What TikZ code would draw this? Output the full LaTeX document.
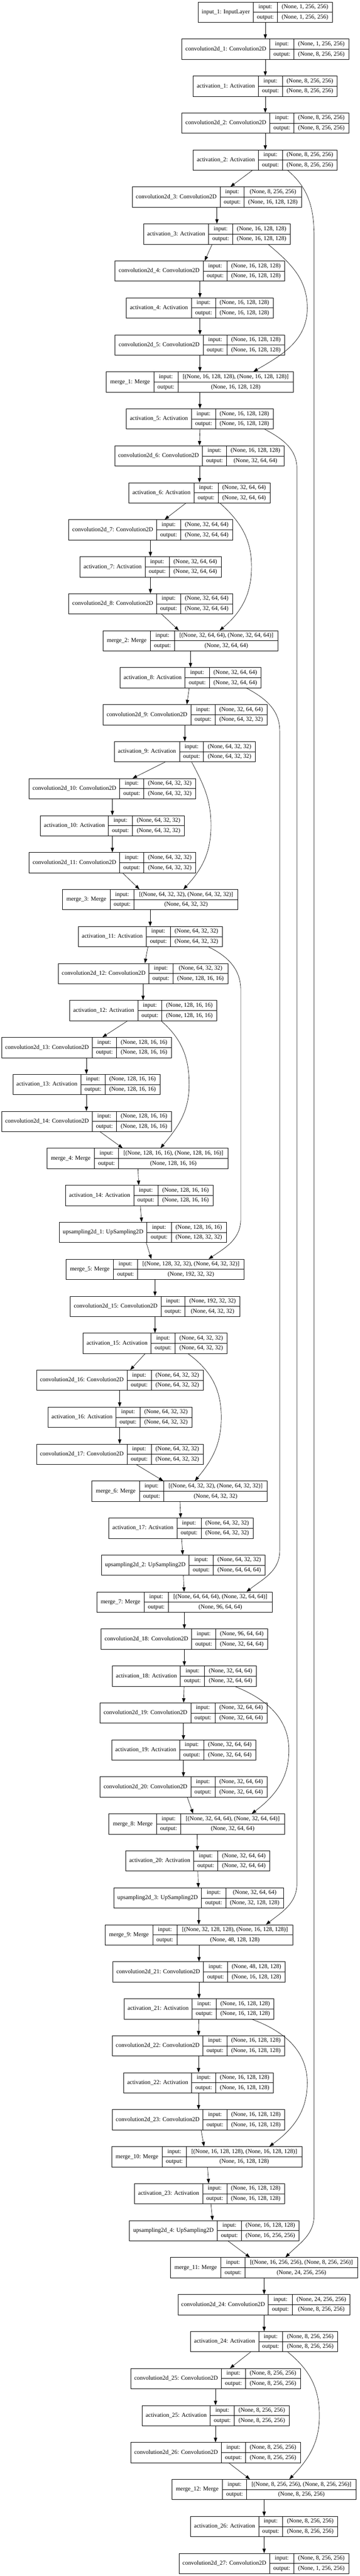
\documentclass[tikz,border=0pt]{standalone}
\usepackage{fontspec}
\setmainfont{Liberation Serif}
\usetikzlibrary{fit,calc,arrows.meta}
\tikzset{
  boxline/.style={line width=1.3pt},
  lbl/.style={font=\fontsize{18}{20}\selectfont, inner sep=0pt, anchor=center, text height=12.6pt, text depth=4pt},
  edgeline/.style={line width=1pt, -{Triangle[length=13.5pt,width=10pt]}},
}
% #1 name, #2 row, #3 left, #4 div1, #5 div2, #6 right, #7 label, #8 input, #9 output
\newcommand\layer[9]{%
  \pgfmathsetmacro\ltop{-(6.3+112*#2)}%
  \pgfmathsetmacro\lbot{\ltop-61.5}%
  \pgfmathsetmacro\lmid{\ltop-30.75}%
  \pgfmathsetmacro\lrA{\ltop-15.4}%
  \pgfmathsetmacro\lrB{\ltop-46.1}%
  \node[fit={(#3,\ltop) (#6,\lbot)}, inner sep=0pt, draw, boxline] (#1) {};
  \draw[boxline] (#4,\ltop) -- (#4,\lbot) (#5,\ltop) -- (#5,\lbot) (#4,\lmid) -- (#6,\lmid);
  \node[lbl] (#1l) at ({(#3+#4)/2},{\lmid}) {#7};
  \node[lbl] (#1i) at ({(#4+#5)/2},{\lrA}) {input:};
  \node[lbl] (#1o) at ({(#4+#5)/2},{\lrB}) {output:};
  \node[lbl] (#1vi) at ({(#5+#6)/2},{\lrA}) {#8};
  \node[lbl] (#1vo) at ({(#5+#6)/2},{\lrB}) {#9};
}
\newcommand\edge[4]{\draw[edgeline] (#2,0 |- #1.south) -- (#4,0 |- #3.north);}
% src xs dst xd xm out in
\newcommand\skipedge[7]{%
  \coordinate (mid#1#3) at ($(#1.south)!0.5!(#3.north)$);
  \draw[edgeline] (#2,0 |- #1.south) to[out=#6,in=90] (#5,0 |- mid#1#3) to[out=-90,in=#7] (#4,0 |- #3.north);
}
% src xs dst xd xv y1 y2 out in
\newcommand\longskip[9]{%
  \coordinate (va#1) at (#5,-#6);
  \coordinate (vb#1) at (#5,-#7);
  \draw[edgeline] (#2,0 |- #1.south) to[out=#8,in=90] (va#1) -- (vb#1) to[out=-90,in=#9] (#4,0 |- #3.north);
}
\begin{document}
\begin{tikzpicture}[x=0.69579pt,y=1pt]
\useasboundingbox (0,0) rectangle (1568,-7803);
\fill[white] (0,0) rectangle (1568,-7803);
\layer{in1}{0}{865}{1105}{1210}{1450}{input\_1: InputLayer}{(None, 1, 256, 256)}{(None, 1, 256, 256)}
\layer{c1}{1}{793}{1177}{1282}{1521}{convolution2d\_1: Convolution2D}{(None, 1, 256, 256)}{(None, 8, 256, 256)}
\layer{a1}{2}{843}{1127}{1232}{1471}{activation\_1: Activation}{(None, 8, 256, 256)}{(None, 8, 256, 256)}
\layer{c2}{3}{793}{1177}{1282}{1521}{convolution2d\_2: Convolution2D}{(None, 8, 256, 256)}{(None, 8, 256, 256)}
\layer{a2}{4}{843}{1127}{1232}{1471}{activation\_2: Activation}{(None, 8, 256, 256)}{(None, 8, 256, 256)}
\layer{c3}{5}{577}{960}{1065}{1316}{convolution2d\_3: Convolution2D}{(None, 8, 256, 256)}{(None, 16, 128, 128)}
\layer{a3}{6}{626}{910}{1015}{1267}{activation\_3: Activation}{(None, 16, 128, 128)}{(None, 16, 128, 128)}
\layer{c4}{7}{502}{886}{991}{1241}{convolution2d\_4: Convolution2D}{(None, 16, 128, 128)}{(None, 16, 128, 128)}
\layer{a4}{8}{551}{835}{941}{1191}{activation\_4: Activation}{(None, 16, 128, 128)}{(None, 16, 128, 128)}
\layer{c5}{9}{502}{886}{991}{1241}{convolution2d\_5: Convolution2D}{(None, 16, 128, 128)}{(None, 16, 128, 128)}
\layer{m1}{10}{464}{671}{776}{1280}{merge\_1: Merge}{[(None, 16, 128, 128), (None, 16, 128, 128)]}{(None, 16, 128, 128)}
\layer{a5}{11}{551}{835}{941}{1191}{activation\_5: Activation}{(None, 16, 128, 128)}{(None, 16, 128, 128)}
\layer{c6}{12}{500}{883}{988}{1240}{convolution2d\_6: Convolution2D}{(None, 16, 128, 128)}{(None, 32, 64, 64)}
\layer{a6}{13}{562}{846}{951}{1178}{activation\_6: Activation}{(None, 32, 64, 64)}{(None, 32, 64, 64)}
\layer{c7}{14}{300}{683}{788}{1015}{convolution2d\_7: Convolution2D}{(None, 32, 64, 64)}{(None, 32, 64, 64)}
\layer{a7}{15}{349}{633}{738}{965}{activation\_7: Activation}{(None, 32, 64, 64)}{(None, 32, 64, 64)}
\layer{c8}{16}{300}{683}{788}{1015}{convolution2d\_8: Convolution2D}{(None, 32, 64, 64)}{(None, 32, 64, 64)}
\layer{m2}{17}{449}{656}{761}{1213}{merge\_2: Merge}{[(None, 32, 64, 64), (None, 32, 64, 64)]}{(None, 32, 64, 64)}
\layer{a8}{18}{524}{807}{913}{1139}{activation\_8: Activation}{(None, 32, 64, 64)}{(None, 32, 64, 64)}
\layer{c9}{19}{449}{833}{938}{1165}{convolution2d\_9: Convolution2D}{(None, 32, 64, 64)}{(None, 64, 32, 32)}
\layer{a9}{20}{499}{783}{888}{1114}{activation\_9: Activation}{(None, 64, 32, 32)}{(None, 64, 32, 32)}
\layer{c10}{21}{127}{522}{627}{854}{convolution2d\_10: Convolution2D}{(None, 64, 32, 32)}{(None, 64, 32, 32)}
\layer{a10}{22}{176}{473}{578}{805}{activation\_10: Activation}{(None, 64, 32, 32)}{(None, 64, 32, 32)}
\layer{c11}{23}{127}{522}{627}{854}{convolution2d\_11: Convolution2D}{(None, 64, 32, 32)}{(None, 64, 32, 32)}
\layer{m3}{24}{273}{480}{585}{1038}{merge\_3: Merge}{[(None, 64, 32, 32), (None, 64, 32, 32)]}{(None, 64, 32, 32)}
\layer{a11}{25}{341}{638}{743}{970}{activation\_11: Activation}{(None, 64, 32, 32)}{(None, 64, 32, 32)}
\layer{c12}{26}{255}{649}{754}{995}{convolution2d\_12: Convolution2D}{(None, 64, 32, 32)}{(None, 128, 16, 16)}
\layer{a12}{27}{303}{601}{706}{946}{activation\_12: Activation}{(None, 128, 16, 16)}{(None, 128, 16, 16)}
\layer{c13}{28}{8}{402}{508}{748}{convolution2d\_13: Convolution2D}{(None, 128, 16, 16)}{(None, 128, 16, 16)}
\layer{a13}{29}{56}{353}{458}{698}{activation\_13: Activation}{(None, 128, 16, 16)}{(None, 128, 16, 16)}
\layer{c14}{30}{8}{402}{508}{748}{convolution2d\_14: Convolution2D}{(None, 128, 16, 16)}{(None, 128, 16, 16)}
\layer{m4}{31}{205}{412}{517}{995}{merge\_4: Merge}{[(None, 128, 16, 16), (None, 128, 16, 16)]}{(None, 128, 16, 16)}
\layer{a14}{32}{286}{583}{689}{929}{activation\_14: Activation}{(None, 128, 16, 16)}{(None, 128, 16, 16)}
\layer{u1}{33}{258}{641}{747}{987}{upsampling2d\_1: UpSampling2D}{(None, 128, 16, 16)}{(None, 128, 32, 32)}
\layer{m5}{34}{288}{495}{600}{1065}{merge\_5: Merge}{[(None, 128, 32, 32), (None, 64, 32, 32)]}{(None, 192, 32, 32)}
\layer{c15}{35}{307}{702}{807}{1047}{convolution2d\_15: Convolution2D}{(None, 192, 32, 32)}{(None, 64, 32, 32)}
\layer{a15}{36}{362}{659}{764}{991}{activation\_15: Activation}{(None, 64, 32, 32)}{(None, 64, 32, 32)}
\layer{c16}{37}{160}{554}{660}{886}{convolution2d\_16: Convolution2D}{(None, 64, 32, 32)}{(None, 64, 32, 32)}
\layer{a16}{38}{209}{506}{611}{837}{activation\_16: Activation}{(None, 64, 32, 32)}{(None, 64, 32, 32)}
\layer{c17}{39}{160}{554}{660}{886}{convolution2d\_17: Convolution2D}{(None, 64, 32, 32)}{(None, 64, 32, 32)}
\layer{m6}{40}{401}{608}{714}{1166}{merge\_6: Merge}{[(None, 64, 32, 32), (None, 64, 32, 32)]}{(None, 64, 32, 32)}
\layer{a17}{41}{475}{772}{877}{1104}{activation\_17: Activation}{(None, 64, 32, 32)}{(None, 64, 32, 32)}
\layer{u2}{42}{442}{825}{930}{1157}{upsampling2d\_2: UpSampling2D}{(None, 64, 32, 32)}{(None, 64, 64, 64)}
\layer{m7}{43}{422}{629}{734}{1188}{merge\_7: Merge}{[(None, 64, 64, 64), (None, 32, 64, 64)]}{(None, 96, 64, 64)}
\layer{c18}{44}{441}{836}{941}{1168}{convolution2d\_18: Convolution2D}{(None, 96, 64, 64)}{(None, 32, 64, 64)}
\layer{a18}{45}{490}{787}{892}{1119}{activation\_18: Activation}{(None, 32, 64, 64)}{(None, 32, 64, 64)}
\layer{c19}{46}{437}{832}{938}{1165}{convolution2d\_19: Convolution2D}{(None, 32, 64, 64)}{(None, 32, 64, 64)}
\layer{a19}{47}{487}{784}{889}{1116}{activation\_19: Activation}{(None, 32, 64, 64)}{(None, 32, 64, 64)}
\layer{c20}{48}{437}{832}{938}{1165}{convolution2d\_20: Convolution2D}{(None, 32, 64, 64)}{(None, 32, 64, 64)}
\layer{m8}{49}{475}{683}{788}{1241}{merge\_8: Merge}{[(None, 32, 64, 64), (None, 32, 64, 64)]}{(None, 32, 64, 64)}
\layer{a20}{50}{548}{845}{950}{1177}{activation\_20: Activation}{(None, 32, 64, 64)}{(None, 32, 64, 64)}
\layer{u3}{51}{496}{879}{985}{1236}{upsampling2d\_3: UpSampling2D}{(None, 32, 64, 64)}{(None, 32, 128, 128)}
\layer{m9}{52}{459}{666}{772}{1277}{merge\_9: Merge}{[(None, 32, 128, 128), (None, 16, 128, 128)]}{(None, 48, 128, 128)}
\layer{c21}{53}{493}{887}{993}{1244}{convolution2d\_21: Convolution2D}{(None, 48, 128, 128)}{(None, 16, 128, 128)}
\layer{a21}{54}{541}{838}{943}{1195}{activation\_21: Activation}{(None, 16, 128, 128)}{(None, 16, 128, 128)}
\layer{c22}{55}{490}{885}{990}{1242}{convolution2d\_22: Convolution2D}{(None, 16, 128, 128)}{(None, 16, 128, 128)}
\layer{a22}{56}{539}{836}{941}{1193}{activation\_22: Activation}{(None, 16, 128, 128)}{(None, 16, 128, 128)}
\layer{c23}{57}{490}{885}{990}{1242}{convolution2d\_23: Convolution2D}{(None, 16, 128, 128)}{(None, 16, 128, 128)}
\layer{m10}{58}{487}{708}{813}{1317}{merge\_10: Merge}{[(None, 16, 128, 128), (None, 16, 128, 128)]}{(None, 16, 128, 128)}
\layer{a23}{59}{587}{884}{989}{1241}{activation\_23: Activation}{(None, 16, 128, 128)}{(None, 16, 128, 128)}
\layer{u4}{60}{565}{948}{1053}{1305}{upsampling2d\_4: UpSampling2D}{(None, 16, 128, 128)}{(None, 16, 256, 256)}
\layer{m11}{61}{743}{964}{1069}{1560}{merge\_11: Merge}{[(None, 16, 256, 256), (None, 8, 256, 256)]}{(None, 24, 256, 256)}
\layer{c24}{62}{776}{1170}{1276}{1527}{convolution2d\_24: Convolution2D}{(None, 24, 256, 256)}{(None, 8, 256, 256)}
\layer{a24}{63}{831}{1128}{1233}{1473}{activation\_24: Activation}{(None, 8, 256, 256)}{(None, 8, 256, 256)}
\layer{c25}{64}{571}{965}{1071}{1310}{convolution2d\_25: Convolution2D}{(None, 8, 256, 256)}{(None, 8, 256, 256)}
\layer{a25}{65}{620}{917}{1022}{1261}{activation\_25: Activation}{(None, 8, 256, 256)}{(None, 8, 256, 256)}
\layer{c26}{66}{571}{965}{1071}{1310}{convolution2d\_26: Convolution2D}{(None, 8, 256, 256)}{(None, 8, 256, 256)}
\layer{m12}{67}{750}{970}{1076}{1553}{merge\_12: Merge}{[(None, 8, 256, 256), (None, 8, 256, 256)]}{(None, 8, 256, 256)}
\layer{a26}{68}{831}{1128}{1233}{1473}{activation\_26: Activation}{(None, 8, 256, 256)}{(None, 8, 256, 256)}
\layer{c27}{69}{781}{1176}{1282}{1521}{convolution2d\_27: Convolution2D}{(None, 8, 256, 256)}{(None, 1, 256, 256)}
% straight edges
\edge{in1}{1157}{c1}{1157}
\edge{c1}{1157}{a1}{1157}
\edge{a1}{1157}{c2}{1157}
\edge{c2}{1157}{a2}{1157}
\edge{a2}{1100}{c3}{1005}
\edge{c3}{946}{a3}{946}
\edge{a3}{925}{c4}{893}
\edge{c4}{872}{a4}{872}
\edge{a4}{872}{c5}{872}
\edge{c5}{872}{m1}{872}
\edge{m1}{872}{a5}{872}
\edge{a5}{872}{c6}{870}
\edge{c6}{870}{a6}{870}
\edge{a6}{810}{c7}{718}
\edge{c7}{656}{a7}{656}
\edge{a7}{656}{c8}{656}
\edge{c8}{705}{m2}{780}
\edge{m2}{831}{a8}{831}
\edge{a8}{825}{c9}{815}
\edge{c9}{806}{a9}{806}
\edge{a9}{720}{c10}{578}
\edge{c10}{490}{a10}{490}
\edge{a10}{490}{c11}{490}
\edge{c11}{535}{m3}{608}
\edge{m3}{655}{a11}{655}
\edge{a11}{645}{c12}{632}
\edge{c12}{624}{a12}{624}
\edge{a12}{556}{c13}{447}
\edge{c13}{377}{a13}{377}
\edge{a13}{377}{c14}{377}
\edge{c14}{437}{m4}{535}
\edge{m4}{602}{a14}{605}
\edge{a14}{612}{u1}{618}
\edge{u1}{638}{m5}{660}
\edge{m5}{676}{c15}{676}
\edge{c15}{676}{a15}{676}
\edge{a15}{633}{c16}{568}
\edge{c16}{522}{a16}{522}
\edge{a16}{522}{c17}{522}
\edge{c17}{595}{m6}{712}
\edge{m6}{785}{a17}{788}
\edge{a17}{792}{u2}{797}
\edge{u2}{800}{m7}{803}
\edge{m7}{804}{c18}{804}
\edge{c18}{804}{a18}{804}
\edge{a18}{803}{c19}{801}
\edge{c19}{800}{a19}{800}
\edge{a19}{800}{c20}{800}
\edge{c20}{817}{m8}{842}
\edge{m8}{860}{a20}{861}
\edge{a20}{863}{u3}{865}
\edge{u3}{867}{m9}{867}
\edge{m9}{868}{c21}{868}
\edge{c21}{868}{a21}{868}
\edge{a21}{867}{c22}{866}
\edge{c22}{866}{a22}{866}
\edge{a22}{866}{c23}{866}
\edge{c23}{877}{m10}{890}
\edge{m10}{905}{a23}{910}
\edge{a23}{920}{u4}{927}
\edge{u4}{995}{m11}{1090}
\edge{m11}{1152}{c24}{1152}
\edge{c24}{1152}{a24}{1152}
\edge{a24}{1093}{c25}{1003}
\edge{c25}{940}{a25}{940}
\edge{a25}{940}{c26}{940}
\edge{c26}{998}{m12}{1090}
\edge{m12}{1152}{a26}{1152}
\edge{a26}{1152}{c27}{1152}
% short skip connections
\skipedge{a3}{1170}{m1}{1105}{1340}{-40}{30}
\skipedge{a6}{960}{m2}{958}{1097}{-42}{40}
\skipedge{a9}{836}{m3}{800}{920}{-62}{47}
\skipedge{a12}{703}{m4}{700}{825}{-41}{50}
\skipedge{a15}{820}{m6}{850}{965}{-36}{50}
\skipedge{a18}{1025}{m8}{1098}{1260}{-22}{37}
\skipedge{a21}{1098}{m10}{1175}{1340}{-20}{36}
\skipedge{a24}{1255}{m12}{1262}{1393}{-39}{46}
% long skip connections
\longskip{a2}{1255}{m11}{1245}{1370}{720}{6709}{-40}{45}
\longskip{a5}{1155}{m9}{1160}{1295}{1420}{5705}{-28}{38}
\longskip{a8}{1075}{m7}{1075}{1220}{2214}{4697}{-28}{38}
\longskip{a11}{910}{m5}{910}{1050}{2999}{3693}{-26}{34}
\end{tikzpicture}
\end{document}
